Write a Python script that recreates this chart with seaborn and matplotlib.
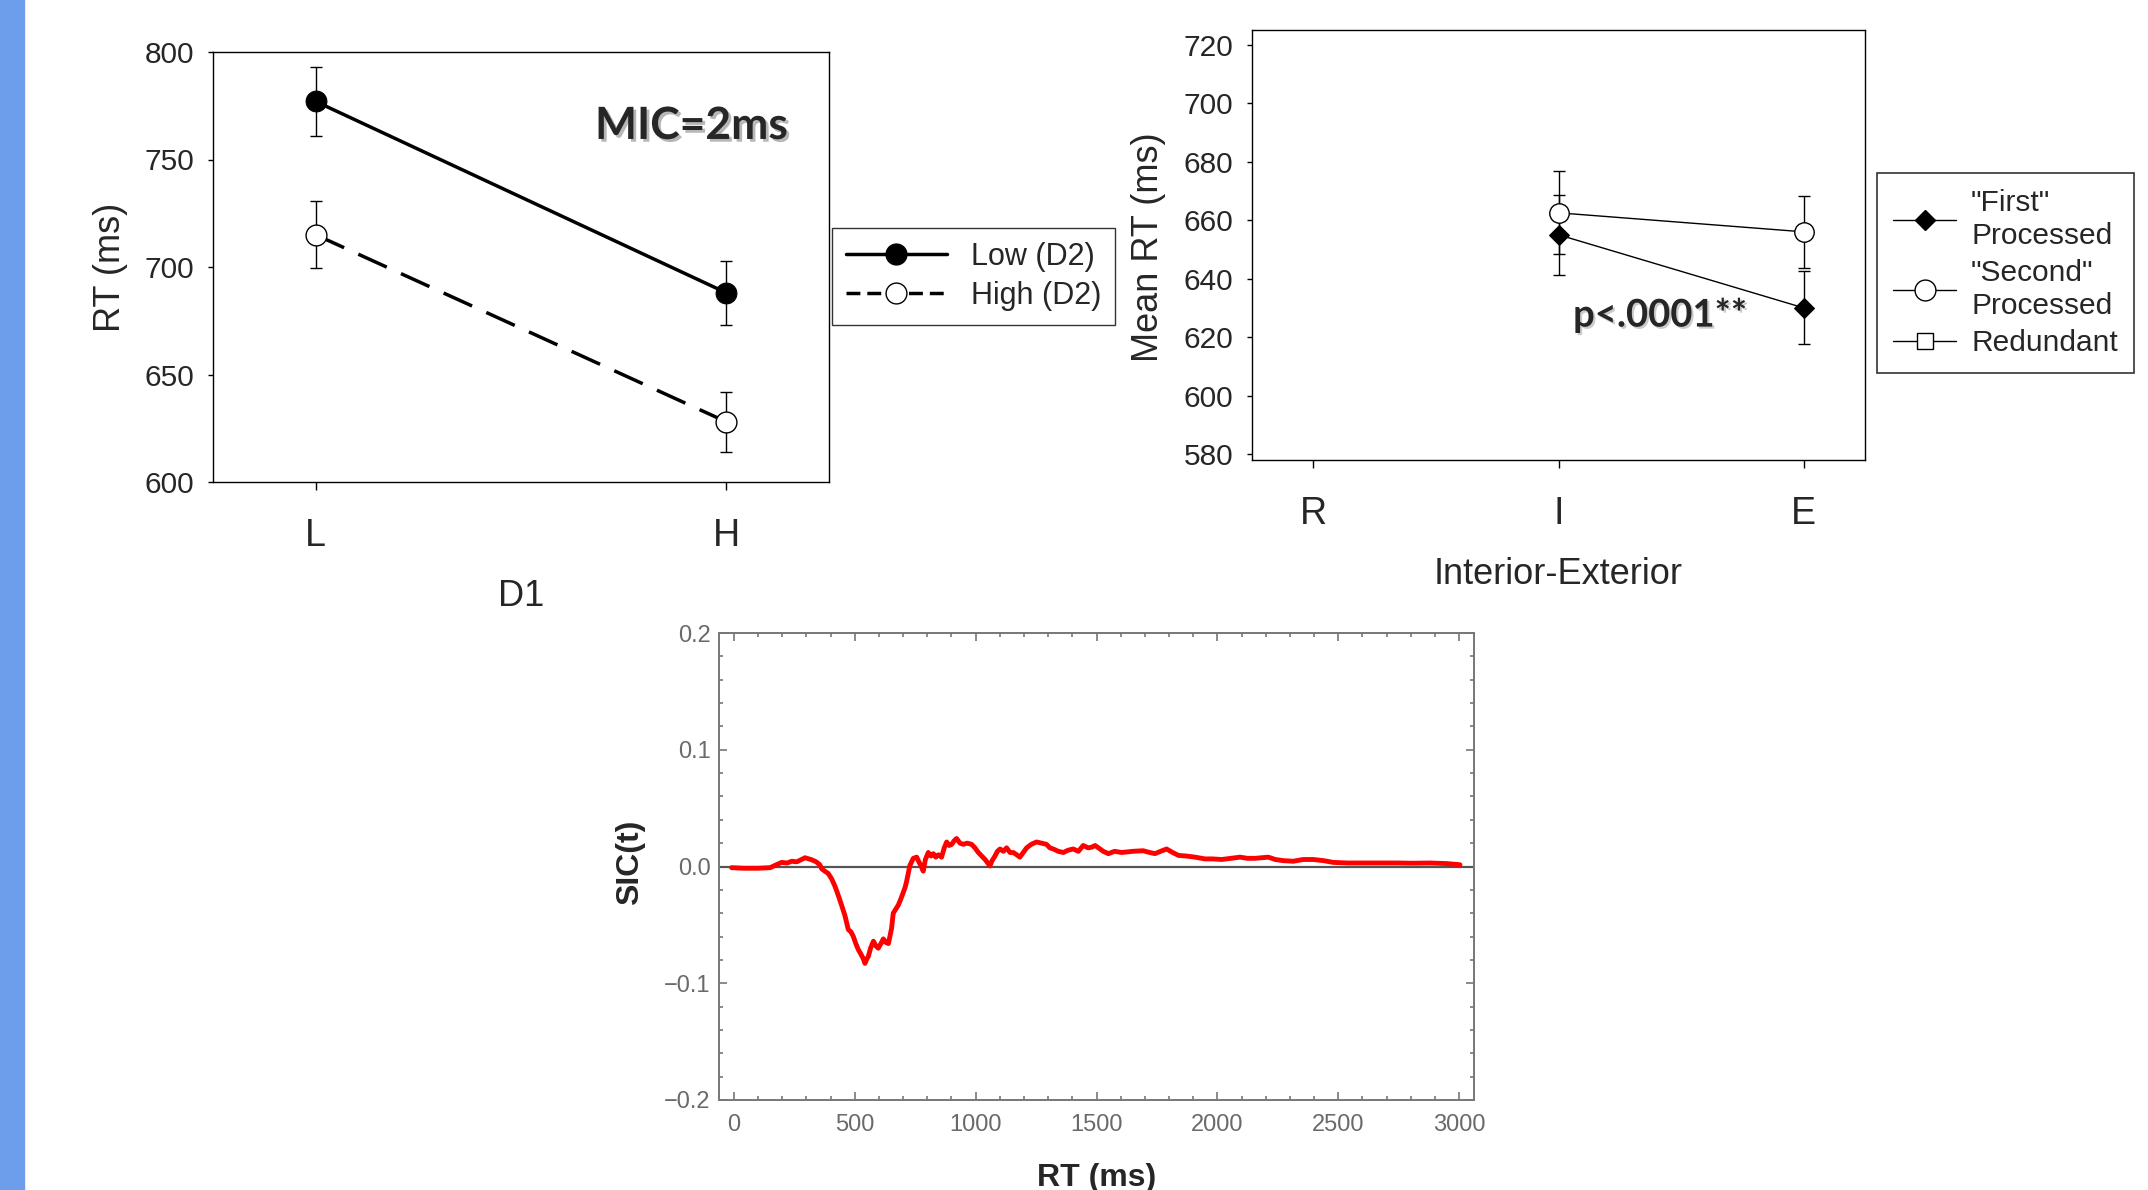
import matplotlib
matplotlib.use('Agg')
import matplotlib.pyplot as plt
import matplotlib.patheffects as pe
from matplotlib.lines import Line2D
from matplotlib.patches import Rectangle
from matplotlib.ticker import MultipleLocator
import numpy as np
import seaborn as sns

# ---- datos: panel superior izquierdo (MIC) ----
d1_levels = ['L', 'H']
low_d2 = [777, 688]
low_d2_err = [16, 15]
high_d2 = [715, 628]
high_d2_err = [15.5, 14]

# ---- datos: panel superior derecho (Interior-Exterior) ----
ie_levels = ['R', 'I', 'E']
first_proc = [np.nan, 655, 630]
first_err = [np.nan, 13.7, 12.5]
second_proc = [np.nan, 662.5, 656]
second_err = [np.nan, 14.2, 12.2]
ie_legend = ['"First"\nProcessed', '"Second"\nProcessed', 'Redundant']

# ---- datos: panel inferior (SIC) ----
sic_t = [-10, 40, 100, 150, 170, 197, 220, 239, 260, 280, 294, 310, 321, 340, 355,
         363, 376, 390, 404, 418, 432, 445, 459, 466, 473, 484, 494, 504, 514, 525,
         535, 542, 550, 556, 565, 577, 587, 597, 608, 618, 628, 639, 645, 652, 659,
         668, 680, 690, 701, 708, 714, 721, 728, 735, 742, 756, 765, 775, 783, 792,
         804, 815, 825, 835, 846, 859, 870, 880, 890, 901, 911, 921, 935, 949, 965,
         983, 997, 1011, 1025, 1039, 1050, 1059, 1068, 1080, 1090, 1101, 1115, 1128,
         1142, 1156, 1170, 1183, 1197, 1211, 1230, 1252, 1272, 1293, 1307, 1321, 1342,
         1363, 1383, 1404, 1425, 1445, 1465, 1480, 1494, 1508, 1528, 1549, 1575, 1604,
         1650, 1693, 1720, 1742, 1765, 1790, 1815, 1839, 1870, 1908, 1949, 1980, 2018,
         2055, 2094, 2125, 2156, 2185, 2211, 2240, 2273, 2314, 2355, 2397, 2440, 2480,
         2540, 2604, 2680, 2742, 2810, 2880, 2950, 3004]
sic_v = [-0.001, -0.0015, -0.0015, -0.001, 0.001, 0.0035, 0.003, 0.0045, 0.004, 0.006,
         0.0075, 0.0065, 0.0058, 0.004, 0.0015, -0.002, -0.004, -0.006, -0.0105, -0.017,
         -0.025, -0.033, -0.042, -0.048, -0.054, -0.056, -0.06, -0.066, -0.071, -0.075,
         -0.079, -0.083, -0.079, -0.077, -0.07, -0.064, -0.068, -0.07, -0.066, -0.062,
         -0.065, -0.066, -0.06, -0.053, -0.04, -0.037, -0.033, -0.028, -0.022, -0.018,
         -0.013, -0.006, 0.001, 0.004, 0.007, 0.008, 0.004, 0.0, -0.004, 0.006,
         0.012, 0.009, 0.011, 0.008, 0.01, 0.008, 0.016, 0.021, 0.018, 0.019,
         0.022, 0.024, 0.02, 0.019, 0.02, 0.019, 0.016, 0.012, 0.009, 0.006,
         0.003, 0.0005, 0.005, 0.009, 0.013, 0.015, 0.013, 0.016, 0.012, 0.012,
         0.01, 0.008, 0.012, 0.016, 0.019, 0.021, 0.02, 0.019, 0.016, 0.015,
         0.013, 0.012, 0.014, 0.015, 0.013, 0.018, 0.016, 0.0165, 0.018, 0.016,
         0.013, 0.011, 0.013, 0.012, 0.013, 0.0135, 0.012, 0.011, 0.013, 0.015,
         0.012, 0.0095, 0.009, 0.008, 0.0065, 0.0065, 0.006, 0.007, 0.008, 0.007,
         0.007, 0.0075, 0.008, 0.006, 0.005, 0.0045, 0.006, 0.006, 0.005, 0.0035,
         0.003, 0.003, 0.003, 0.003, 0.0028, 0.003, 0.0025, 0.0015]
sic_yticks = [-0.2, -0.1, 0.0, 0.1, 0.2]
sic_yticklabels = ['\u22120.2', '\u22120.1', '0.0', '0.1', '0.2']

sns.set_theme(style='white')
plt.rcParams['font.family'] = ['Liberation Sans', 'DejaVu Sans']

W, H = 2148, 1190
fig = plt.figure(figsize=(W / 100, H / 100), dpi=100)
fig.patches.append(Rectangle((0, 0), 24 / W, 1, transform=fig.transFigure,
                             color='#6d9eeb', zorder=0))


def style_sigma(ax):
    for s in ax.spines.values():
        s.set_color('black')
        s.set_linewidth(1)
    ax.tick_params(axis='y', left=True, direction='out', length=3.6, width=1,
                   labelsize=21.5, pad=10, color='black')
    ax.tick_params(axis='x', bottom=True, direction='out', length=5.7, width=1,
                   labelsize=27, pad=20, color='black')


# ---------- panel superior izquierdo ----------
ax1 = fig.add_axes([213 / W, 1 - 482 / H, 616 / W, 430 / H])
x1 = np.arange(len(d1_levels))
ax1.errorbar(x1, low_d2, yerr=low_d2_err, fmt='none', ecolor='black',
             elinewidth=1, capsize=4.5, capthick=1, zorder=2)
ax1.errorbar(x1, high_d2, yerr=high_d2_err, fmt='none', ecolor='black',
             elinewidth=1, capsize=4.5, capthick=1, zorder=2)
sns.lineplot(x=x1, y=low_d2, ax=ax1, color='black', lw=2.5, marker='o',
             markersize=15, markerfacecolor='black', markeredgecolor='black', zorder=3)
sns.lineplot(x=x1, y=high_d2, ax=ax1, color='black', lw=2.5, linestyle=(0, (9, 4.5)),
             marker='o', markersize=15, markerfacecolor='white',
             markeredgecolor='black', markeredgewidth=1, zorder=3)
ax1.set_xlim(-0.25, 1.25)
ax1.set_ylim(600, 800)
ax1.set_yticks(range(600, 801, 50))
ax1.set_xticks(x1, d1_levels)
style_sigma(ax1)
ax1.set_xlabel('D1', fontsize=26)
ax1.xaxis.set_label_coords(0.5, -0.225)
ax1.set_ylabel('RT (ms)', fontsize=26)
ax1.yaxis.set_label_coords(-0.138, 0.5)
ax1.text(0.777, 0.828, 'MIC=2ms', transform=ax1.transAxes, ha='center', va='center',
         fontsize=32, fontweight='bold', family=['Lato', 'DejaVu Sans'],
         path_effects=[pe.SimplePatchShadow(offset=(2, -2), shadow_rgbFace='#888888', alpha=0.6),
                       pe.Normal()])

h_low = Line2D([], [], color='black', lw=2.5, marker='o', ms=15, mfc='black')
h_high = Line2D([], [], color='black', lw=2.5, ls=(0, (4, 2)), marker='o', ms=15,
                mfc='white', mew=1)
leg1 = fig.legend([h_low, h_high], ['Low (D2)', 'High (D2)'], loc='upper left',
                  bbox_to_anchor=(832 / W, 1 - 228 / H), fontsize=22, frameon=True,
                  fancybox=False, edgecolor='black', handlelength=3.3, borderpad=0.45,
                  labelspacing=0.3, handletextpad=0.8, borderaxespad=0)
leg1.get_frame().set_linewidth(1)

# ---------- panel superior derecho ----------
ax2 = fig.add_axes([1252 / W, 1 - 460 / H, 613 / W, 430 / H])
x2 = np.arange(len(ie_levels))
ax2.errorbar(x2, second_proc, yerr=second_err, fmt='none', ecolor='black',
             elinewidth=1, capsize=4.5, capthick=1, zorder=2)
ax2.errorbar(x2, first_proc, yerr=first_err, fmt='none', ecolor='black',
             elinewidth=1, capsize=4.5, capthick=1, zorder=2)
sns.lineplot(x=x2, y=second_proc, ax=ax2, color='black', lw=1, marker='o',
             markersize=14, markerfacecolor='white', markeredgecolor='black',
             markeredgewidth=1, zorder=3)
sns.lineplot(x=x2, y=first_proc, ax=ax2, color='black', lw=1, marker='D',
             markersize=10, markerfacecolor='black', markeredgecolor='black', zorder=4)
ax2.set_xlim(-0.25, 2.25)
ax2.set_ylim(578, 725)
ax2.set_yticks(range(580, 721, 20))
ax2.set_xticks(x2, ie_levels)
style_sigma(ax2)
ax2.set_xlabel('Interior-Exterior', fontsize=26)
ax2.xaxis.set_label_coords(0.5, -0.225)
ax2.set_ylabel('Mean RT (ms)', fontsize=26)
ax2.yaxis.set_label_coords(-0.141, 0.495)
ax2.text(0.666, 0.337, 'p<.0001**', transform=ax2.transAxes, ha='center', va='center',
         fontsize=27.5, fontweight='bold', family=['Lato', 'DejaVu Sans'],
         path_effects=[pe.SimplePatchShadow(offset=(1.5, -1.5), shadow_rgbFace='#999999', alpha=0.5),
                       pe.Normal()])

h_first = Line2D([], [], color='black', lw=1, marker='D', ms=10, mfc='black')
h_second = Line2D([], [], color='black', lw=1, marker='o', ms=15, mfc='white', mew=1)
h_red = Line2D([], [], color='black', lw=1, marker='s', ms=11, mfc='white', mew=1)
leg2 = fig.legend([h_first, h_second, h_red], ie_legend, loc='upper left',
                  bbox_to_anchor=(1877 / W, 1 - 173 / H), fontsize=21.5, frameon=True,
                  fancybox=False, edgecolor='black', handlelength=2.1, borderpad=0.55,
                  labelspacing=0.3, handletextpad=0.5, borderaxespad=0)
leg2.get_frame().set_linewidth(1.2)
for t in leg2.get_texts():
    t.set_linespacing(1.22)

# ---------- panel inferior (SIC) ----------
ax3 = fig.add_axes([719 / W, 1 - 1100 / H, 755 / W, 467 / H])
ax3.axhline(0, color='#555555', lw=1.6, zorder=1)
sns.lineplot(x=sic_t, y=sic_v, ax=ax3, color='red', lw=3.5, zorder=2)
ax3.set_xlim(-62, 3062)
ax3.set_ylim(-0.2, 0.2)
ax3.xaxis.set_major_locator(MultipleLocator(500))
ax3.xaxis.set_minor_locator(MultipleLocator(100))
ax3.set_yticks(sic_yticks, sic_yticklabels)
ax3.yaxis.set_minor_locator(MultipleLocator(0.02))
for s in ax3.spines.values():
    s.set_color('#777777')
    s.set_linewidth(1.4)
ax3.tick_params(which='both', direction='in', top=True, right=True, bottom=True,
                left=True, color='#777777', width=1.2)
ax3.tick_params(which='major', length=5.5, labelsize=17, labelcolor='#6a6a6a', pad=6)
ax3.tick_params(axis='x', which='major', pad=10)
ax3.tick_params(which='minor', length=3)
ax3.set_xlabel('RT (ms)', fontsize=23, fontweight='bold')
ax3.xaxis.set_label_coords(0.5, -0.135)
ax3.set_ylabel('SIC(t)', fontsize=23, fontweight='bold')
ax3.yaxis.set_label_coords(-0.098, 0.51)

fig.savefig('out.png', dpi=100)
